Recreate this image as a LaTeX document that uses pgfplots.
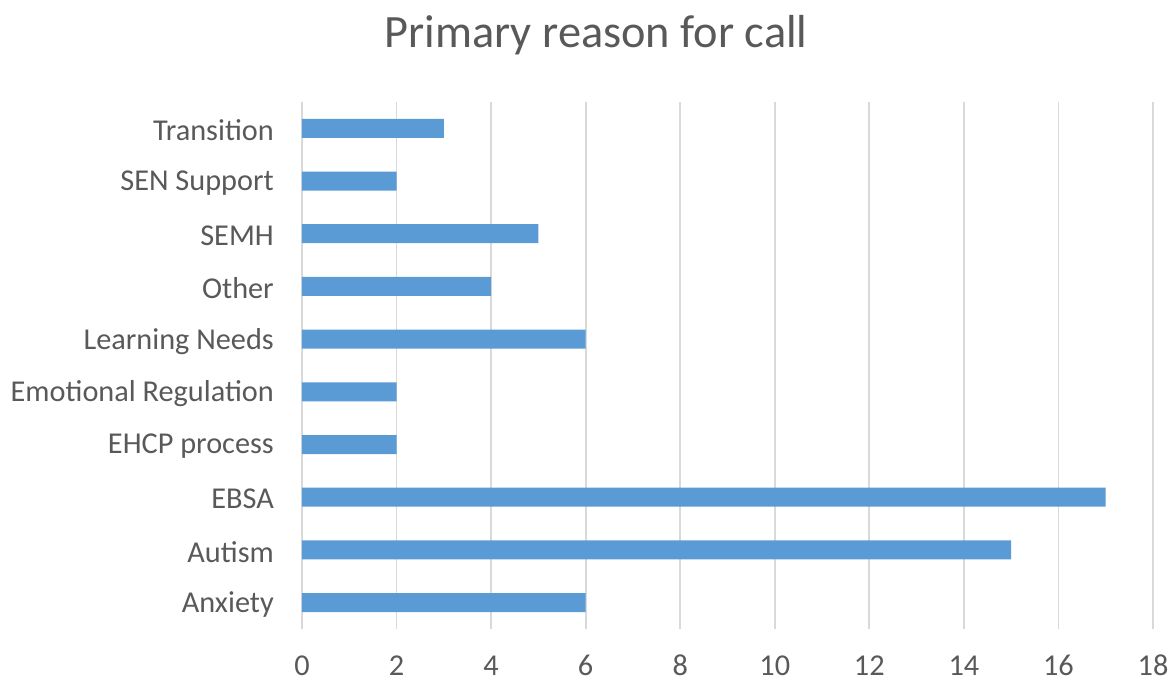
\documentclass[border=0pt]{standalone}
\usepackage{fontspec}
\setmainfont{Carlito}
\usepackage{pgfplots}
\pgfplotsset{compat=1.18}
\definecolor{barblue}{HTML}{5B9BD5}
\definecolor{gridgray}{HTML}{D9D9D9}
\definecolor{textgray}{HTML}{595959}
\begin{document}
\begin{tikzpicture}
\useasboundingbox (-302bp,-53bp) rectangle (873bp,629bp);
\begin{axis}[
  at={(0,0)}, anchor=south west,
  scale only axis, width=851bp, height=527bp,
  xbar, bar width=19bp,
  xmin=0, xmax=18, ymin=-0.5, ymax=9.5,
  xtick={0,2,...,18},
  ytick={0,...,9},
  yticklabels={Anxiety,Autism,EBSA,EHCP process,Emotional Regulation,Learning Needs,Other,SEMH,SEN Support,Transition},
  axis line style={draw=none},
  major tick length=0pt,
  xmajorgrids,
  grid style={color=gridgray, line width=1.8bp},
  tick label style={font=\fontsize{30.4}{36}\selectfont, text=textgray},
  /pgf/number format/assume math mode=true,
  yticklabel style={anchor=east, inner sep=0pt, xshift=-28bp, yshift=-2bp},
  xticklabel style={anchor=base, inner sep=0pt, yshift=-46bp},
  title={Primary reason for call},
  title style={at={(axis description cs:0.3455,1.115)}, anchor=center,
    font=\fontsize{46.5}{54}\selectfont, text=textgray},
]
\addplot[fill=barblue, draw=none] coordinates {
  (6,0) (15,1) (17,2) (2,3) (2,4) (6,5) (4,6) (5,7) (2,8) (3,9)
};
\end{axis}
\end{tikzpicture}
\end{document}
